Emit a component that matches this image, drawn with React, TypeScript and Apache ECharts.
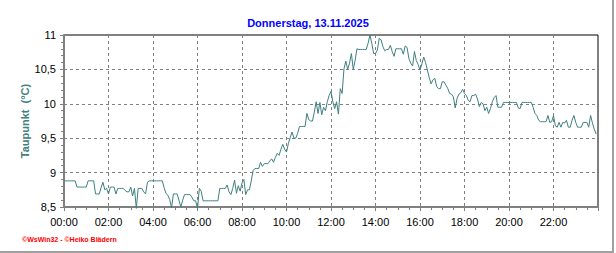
import React, { useEffect, useRef } from "react";
import * as echarts from "echarts";

const titleText = "Donnerstag, 13.11.2025";
const yAxisName = "Taupunkt  (°C)";
const footerText = "©WsWin32 - ©Heiko Blädern";
const stepMinutes = 5;

// Dew point, one value every 5 minutes, one row per hour
const h00 = [8.88, 8.88, 8.88, 8.88, 8.88, 8.88, 8.88, 8.79, 8.79, 8.79, 8.79, 8.79];
const h01 = [8.79, 8.88, 8.88, 8.88, 8.88, 8.69, 8.69, 8.69, 8.78, 8.86, 8.75, 8.77];
const h02 = [8.69, 8.79, 8.79, 8.79, 8.69, 8.77, 8.77, 8.77, 8.77, 8.74, 8.72, 8.72];
const h03 = [8.79, 8.66, 8.77, 8.48, 8.77, 8.77, 8.77, 8.72, 8.69, 8.86, 8.88, 8.88];
const h04 = [8.88, 8.88, 8.88, 8.88, 8.88, 8.88, 8.78, 8.7, 8.67, 8.61, 8.49, 8.69];
const h05 = [8.69, 8.69, 8.6, 8.5, 8.6, 8.68, 8.68, 8.68, 8.68, 8.64, 8.59, 8.59];
const h06 = [8.48, 8.77, 8.73, 8.59, 8.59, 8.59, 8.59, 8.59, 8.59, 8.59, 8.59, 8.59];
const h07 = [8.77, 8.77, 8.77, 8.77, 8.82, 8.72, 8.68, 8.77, 8.89, 8.7, 8.81, 8.73];
const h08 = [8.85, 8.9, 8.68, 8.75, 8.75, 8.88, 9.03, 9.06, 9.06, 9.06, 9.15, 9.09];
const h09 = [9.13, 9.13, 9.13, 9.17, 9.2, 9.15, 9.22, 9.28, 9.25, 9.34, 9.41, 9.34];
const h10 = [9.3, 9.42, 9.51, 9.59, 9.5, 9.5, 9.57, 9.67, 9.67, 9.67, 9.67, 9.86];
const h11 = [9.77, 9.75, 9.75, 9.88, 10.03, 9.86, 10.02, 9.84, 9.95, 9.9, 10.03, 10.12];
const h12 = [10.18, 10.03, 9.93, 10.03, 9.85, 10.22, 10.15, 10.51, 10.62, 10.5, 10.59, 10.73];
const h13 = [10.5, 10.63, 10.8, 10.79, 10.79, 10.79, 10.79, 10.79, 10.88, 11.0, 10.88, 10.73];
const h14 = [10.73, 10.78, 10.95, 10.93, 10.83, 10.77, 10.79, 10.79, 10.85, 10.76, 10.69, 10.8];
const h15 = [10.8, 10.8, 10.8, 10.72, 10.84, 10.82, 10.66, 10.59, 10.55, 10.76, 10.63, 10.57];
const h16 = [10.49, 10.58, 10.68, 10.6, 10.49, 10.38, 10.29, 10.35, 10.37, 10.25, 10.22, 10.22];
const h17 = [10.32, 10.32, 10.27, 10.22, 10.15, 10.14, 10.1, 9.94, 10.08, 10.14, 10.16, 10.21];
const h18 = [10.15, 10.12, 10.05, 10.03, 10.12, 10.12, 10.14, 10.07, 9.96, 10.02, 10.0, 9.9];
const h19 = [9.95, 9.86, 9.93, 10.03, 10.09, 10.12, 9.95, 9.95, 9.95, 10.02, 10.02, 10.02];
const h20 = [10.02, 10.02, 10.02, 10.02, 10.02, 9.94, 9.93, 10.02, 10.02, 10.02, 10.02, 10.02];
const h21 = [10.02, 9.95, 9.86, 9.83, 9.76, 9.74, 9.74, 9.74, 9.74, 9.83, 9.73, 9.74];
const h22 = [9.83, 9.68, 9.66, 9.73, 9.66, 9.73, 9.72, 9.76, 9.66, 9.66, 9.76, 9.83];
const h23 = [9.73, 9.66, 9.66, 9.66, 9.73, 9.73, 9.73, 9.66, 9.83, 9.72, 9.63, 9.56];

const hourly = [h00, h01, h02, h03, h04, h05, h06, h07, h08, h09, h10, h11, h12, h13, h14, h15, h16, h17, h18, h19, h20, h21, h22, h23];

const yTickMin = 8.5;
const yTickMax = 11;
const yTickStep = 0.5;
const xHoursMax = 24;
const xHoursStep = 2;

export default function App() {
  const ref = useRef<HTMLDivElement>(null);

  useEffect(() => {
    document.body.style.margin = "0";
    if (!ref.current) return;
    const chart = echarts.init(ref.current, undefined, { renderer: "svg" });

    const values = hourly.flat();
    const data = values.map((v, i) => [(i * stepMinutes) / 60, v]);
    const font = "Liberation Sans, Arial, sans-serif";

    chart.setOption({
      animation: false,
      backgroundColor: "#ffffff",
      title: {
        text: titleText,
        left: "center",
        top: 12,
        textStyle: { color: "#0000ff", fontSize: 11, fontWeight: "bold", fontFamily: font },
      },
      grid: {
        left: 64,
        top: 35,
        right: 18,
        bottom: 46,
        show: true,
        borderColor: "#000000",
        borderWidth: 1,
        backgroundColor: "transparent",
      },
      xAxis: {
        type: "value",
        min: 0,
        max: xHoursMax,
        interval: xHoursStep,
        axisLine: { show: true, onZero: false, lineStyle: { color: "#808080", width: 2 } },
        axisTick: { show: true, length: 4, lineStyle: { color: "#808080" } },
        minorTick: { show: true, splitNumber: 4, length: 3, lineStyle: { color: "#808080" } },
        splitLine: { show: true, lineStyle: { color: "#808080", type: [3, 3], width: 1 } },
        axisLabel: {
          color: "#000000",
          fontSize: 11,
          fontFamily: font,
          margin: 9,
          formatter: (v: number) => (v >= xHoursMax ? "" : String(v).padStart(2, "0") + ":00"),
        },
      },
      yAxis: {
        type: "value",
        min: yTickMin,
        max: yTickMax,
        interval: yTickStep,
        name: yAxisName,
        nameLocation: "middle",
        nameRotate: 90,
        nameGap: 34,
        nameMoveOverlap: false,
        nameTextStyle: { color: "#408080", fontSize: 11, fontWeight: "bold", fontFamily: font },
        axisLine: { show: true, lineStyle: { color: "#808080", width: 2 } },
        axisTick: { show: true, length: 4, lineStyle: { color: "#808080" } },
        minorTick: { show: true, splitNumber: 5, length: 3, lineStyle: { color: "#808080" } },
        splitLine: { show: true, lineStyle: { color: "#808080", type: [3, 3], width: 1 } },
        axisLabel: {
          color: "#000000",
          fontSize: 11,
          fontFamily: font,
          margin: 8,
          formatter: (v: number) => String(v).replace(".", ","),
        },
      },
      series: [
        {
          type: "line",
          data,
          showSymbol: false,
          clip: false,
          lineStyle: { color: "#408080", width: 1 },
          itemStyle: { color: "#408080" },
        },
      ],
      graphic: [
        {
          type: "text",
          left: 22,
          top: 236,
          style: { text: footerText, fill: "#ff0000", fontSize: 7, fontWeight: "bold", fontFamily: font },
        },
        {
          type: "line",
          shape: { x1: 613, y1: 0, x2: 613, y2: 253 },
          style: { stroke: "#a0a0a0", lineWidth: 2 },
        },
        {
          type: "line",
          shape: { x1: 0, y1: 252, x2: 614, y2: 252 },
          style: { stroke: "#a0a0a0", lineWidth: 2 },
        },
      ],
    });

    return () => chart.dispose();
  }, []);

  return <div ref={ref} style={{ width: 616, height: 253 }} />;
}
